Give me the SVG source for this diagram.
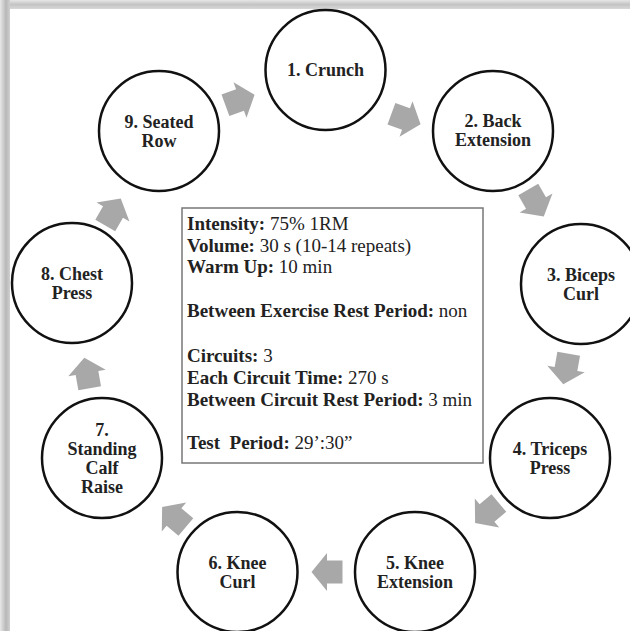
<svg xmlns="http://www.w3.org/2000/svg" width="630" height="631" viewBox="0 0 630 631">
<defs>
<linearGradient id="gTop" x1="0" y1="0" x2="0" y2="1">
<stop offset="0" stop-color="#e6e6e6"/><stop offset="0.5" stop-color="#c4c4c4"/><stop offset="1" stop-color="#d8d8d8"/>
</linearGradient>
<linearGradient id="gLeft" x1="0" y1="0" x2="1" y2="0">
<stop offset="0" stop-color="#e8e8e8"/><stop offset="0.6" stop-color="#b8b8b8"/><stop offset="1" stop-color="#d0d0d0"/>
</linearGradient>
<polygon id="arr" points="-15.5,-11.5 0,-11.5 0,-19 15.5,0 0,19 0,11.5 -15.5,11.5"/>
</defs>
<style>
.node circle{fill:#fff;stroke:#111;stroke-width:2.5}
.node text{font-family:"Liberation Serif",serif;font-weight:bold;font-size:18px;fill:#222;text-anchor:middle}
.conn use{fill:#a8a8a8}
.info text{font-family:"Liberation Serif",serif;font-size:19px;fill:#222}
.info .b{font-weight:bold}
</style>
<rect x="0" y="0" width="630" height="631" fill="#fff"/>
<rect x="0" y="0" width="630" height="9" fill="url(#gTop)"/>
<rect x="0" y="0" width="10" height="631" fill="url(#gLeft)"/>

<g id="connectors" class="conn">
<use href="#arr" transform="translate(240,100) rotate(-20)"/>
<use href="#arr" transform="translate(406,119) rotate(20)"/>
<use href="#arr" transform="translate(536,203) rotate(60)"/>
<use href="#arr" transform="translate(566,369) rotate(100)"/>
<use href="#arr" transform="translate(487,513) rotate(140)"/>
<use href="#arr" transform="translate(327,572) rotate(180)"/>
<use href="#arr" transform="translate(174,517) rotate(220)"/>
<use href="#arr" transform="translate(87,373) rotate(260)"/>
<use href="#arr" transform="translate(113,212) rotate(300)"/>
</g>

<g id="n1" class="node"><circle cx="325.5" cy="70" r="60"/><text x="325.5" y="76">1. Crunch</text></g>
<g id="n2" class="node"><circle cx="493" cy="131" r="60"/><text x="493" y="127">2. Back</text><text x="493" y="146">Extension</text></g>
<g id="n3" class="node"><circle cx="581" cy="284" r="60"/><text x="581" y="281">3. Biceps</text><text x="581" y="300">Curl</text></g>
<g id="n4" class="node"><circle cx="550" cy="458" r="60"/><text x="550" y="455">4. Triceps</text><text x="550" y="474">Press</text></g>
<g id="n5" class="node"><circle cx="415" cy="572" r="60"/><text x="415" y="569">5. Knee</text><text x="415" y="588">Extension</text></g>
<g id="n6" class="node"><circle cx="237.5" cy="572" r="60"/><text x="237.5" y="569">6. Knee</text><text x="237.5" y="588">Curl</text></g>
<g id="n7" class="node"><circle cx="102" cy="458" r="60"/><text x="102" y="436">7.</text><text x="102" y="455">Standing</text><text x="102" y="474">Calf</text><text x="102" y="493">Raise</text></g>
<g id="n8" class="node"><circle cx="72" cy="283" r="60"/><text x="72" y="280">8. Chest</text><text x="72" y="299">Press</text></g>
<g id="n9" class="node"><circle cx="159" cy="131" r="60"/><text x="159" y="128">9. Seated</text><text x="159" y="147">Row</text></g>

<g id="info" class="info">
<rect x="182" y="208" width="301" height="255" fill="#fff" stroke="#777" stroke-width="1.5"/>
<text x="187" y="230"><tspan class="b">Intensity:</tspan> 75% 1RM</text>
<text x="187" y="252"><tspan class="b">Volume:</tspan> 30 s (10-14 repeats)</text>
<text x="187" y="273"><tspan class="b">Warm Up:</tspan> 10 min</text>
<text x="187" y="317"><tspan class="b">Between Exercise Rest Period:</tspan> non</text>
<text x="187" y="362"><tspan class="b">Circuits:</tspan> 3</text>
<text x="187" y="384"><tspan class="b">Each Circuit Time:</tspan> 270 s</text>
<text x="187" y="406"><tspan class="b">Between Circuit Rest Period:</tspan> 3 min</text>
<text x="187" y="449" xml:space="preserve"><tspan class="b">Test  Period:</tspan> 29’:30”</text>
</g>
</svg>
